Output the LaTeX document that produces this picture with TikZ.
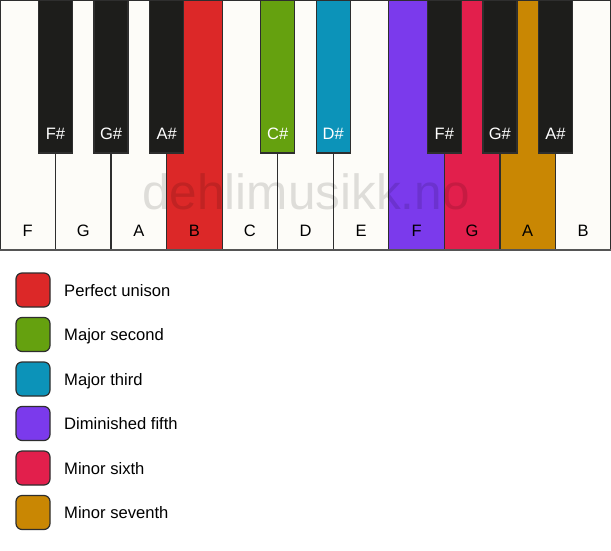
\documentclass[tikz,border=0pt]{standalone}
\usepackage{fontspec}
\setmainfont{Liberation Sans}
\definecolor{ivory}{HTML}{FDFCF8}
\definecolor{keyline}{HTML}{2E2E2E}
\definecolor{keyblack}{HTML}{1D1D1B}
\definecolor{cred}{HTML}{DC2828}
\definecolor{cgreen}{HTML}{65A10F}
\definecolor{cteal}{HTML}{0C93B9}
\definecolor{cpurple}{HTML}{7B3AEC}
\definecolor{ccrimson}{HTML}{E21F4C}
\definecolor{cochre}{HTML}{C98703}
\definecolor{bottomgray}{HTML}{555555}
\begin{document}
\begin{tikzpicture}[x=1pt,y=-1pt,
  whitekey/.style={draw=keyline, line width=1.2pt, minimum width=55.545pt, minimum height=250pt, inner sep=0pt, outer sep=0pt, anchor=north west},
  blackkey/.style={draw=keyline, line width=1.2pt, minimum width=34pt, minimum height=153pt, inner sep=0pt, outer sep=0pt, anchor=north},
  keylabel/.style={font=\fontsize{16.5}{16.5}\selectfont, text=black, inner sep=0pt, anchor=base},
  blacklabel/.style={font=\fontsize{16.5}{16.5}\selectfont, text=white, inner sep=0pt, anchor=base},
  legbox/.style={draw=keyline, line width=1.2pt, rounded corners=6pt, minimum size=34pt, inner sep=0pt},
  legtext/.style={font=\fontsize{16.6}{16.6}\selectfont, text=black, inner sep=0pt, anchor=base west},
  watermark/.style={font=\fontsize{49.5}{49.5}\selectfont, text=black, text opacity=0.12, inner sep=0pt, anchor=base}
]
\useasboundingbox (0,0) rectangle (611,550);
\fill[white] (0,0) rectangle (611,550);
% white keys
\foreach \i/\n/\c in {0/F/ivory,1/G/ivory,2/A/ivory,3/B/cred,4/C/ivory,5/D/ivory,6/E/ivory,7/F/cpurple,8/G/ccrimson,9/A/cochre,10/B/ivory}{
  \node[whitekey, fill=\c] (w\i) at (\i*55.545, 0) {};
  \node[keylabel] (lw\i) at (\i*55.545+27.77, 236) {\n};
}
% bottom edge
\draw[bottomgray, line width=2pt] (w0.south west) -- (w10.south east);
% watermark
\node[watermark] (wm) at (306,209) {dehlimusikk.no};
% black keys
\foreach \i/\n/\c in {1/F\#/keyblack,2/G\#/keyblack,3/A\#/keyblack,5/C\#/cgreen,6/D\#/cteal,8/F\#/keyblack,9/G\#/keyblack,10/A\#/keyblack}{
  \node[blackkey, fill=\c] (b\i) at (\i*55.545, 0) {};
  \node[blacklabel] (lb\i) at (\i*55.545, 139) {\n};
}
% legend
\foreach \k/\c/\t [count=\j from 0] in {1/cred/Perfect unison,2/cgreen/Major second,3/cteal/Major third,4/cpurple/Diminished fifth,5/ccrimson/Minor sixth,6/cochre/Minor seventh}{
  \node[legbox, fill=\c] (l\k) at (33, 290+\j*44.5) {};
  \node[legtext] (t\k) at (64, 296+\j*44.5) {\t};
}
\end{tikzpicture}
\end{document}
